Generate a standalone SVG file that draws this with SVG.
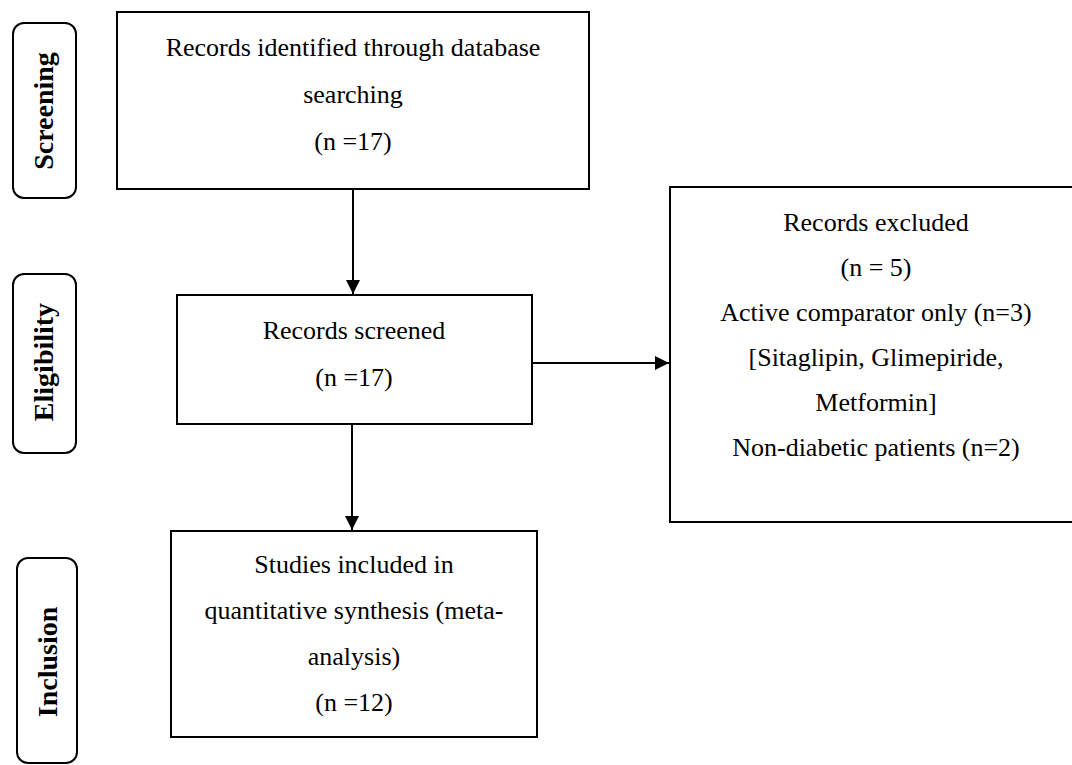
<svg xmlns="http://www.w3.org/2000/svg" width="1072" height="765" viewBox="0 0 1072 765">
<defs>
<style>
.box{fill:#fff;stroke:#000;stroke-width:2}
.stage{fill:#fff;stroke:#000;stroke-width:2}
.t{font-family:"Liberation Serif","Times New Roman",Times,serif;font-size:26px;fill:#000;text-anchor:middle}
.st{font-family:"Liberation Serif","Times New Roman",Times,serif;font-size:28px;font-weight:bold;fill:#000;text-anchor:middle}
.c{stroke:#000;stroke-width:2;fill:none}
</style>
<marker id="ah" markerWidth="14" markerHeight="14" viewBox="0 0 14 14" refX="14" refY="7" orient="auto" markerUnits="userSpaceOnUse">
<path d="M0,0 L14,7 L0,14 Z" fill="#000"/>
</marker>
</defs>
<rect width="1072" height="765" fill="#fff"/>
<g id="stage-screening">
<rect class="stage" x="13" y="23" width="63" height="175" rx="11"/>
<text class="st" transform="translate(53,111) rotate(-90)">Screening</text>
</g>
<g id="stage-eligibility">
<rect class="stage" x="13" y="274" width="63" height="179" rx="11"/>
<text class="st" transform="translate(53,362) rotate(-90)">Eligibility</text>
</g>
<g id="stage-inclusion">
<rect class="stage" x="17" y="558" width="60" height="205" rx="11"/>
<text class="st" transform="translate(57,662) rotate(-90)">Inclusion</text>
</g>
<g id="identified">
<rect class="box" x="117" y="12" width="472" height="177"/>
<text class="t" x="353" y="56">Records identified through database</text>
<text class="t" x="353" y="103">searching</text>
<text class="t" x="353" y="150">(n =17)</text>
</g>
<g id="screened">
<rect class="box" x="177" y="295" width="355" height="129"/>
<text class="t" x="354" y="339">Records screened</text>
<text class="t" x="354" y="386">(n =17)</text>
</g>
<g id="excluded">
<rect class="box" x="670" y="187" width="420" height="335"/>
<text class="t" x="876" y="231">Records excluded</text>
<text class="t" x="876" y="276">(n = 5)</text>
<text class="t" x="876" y="321">Active comparator only (n=3)</text>
<text class="t" x="876" y="366">[Sitaglipin, Glimepiride,</text>
<text class="t" x="876" y="411">Metformin]</text>
<text class="t" x="876" y="456">Non-diabetic patients (n=2)</text>
</g>
<g id="included">
<rect class="box" x="171" y="531" width="366" height="206"/>
<text class="t" x="354" y="573">Studies included in</text>
<text class="t" x="354" y="619">quantitative synthesis (meta-</text>
<text class="t" x="354" y="665">analysis)</text>
<text class="t" x="354" y="711">(n =12)</text>
</g>
<g id="connectors">
<line class="c" x1="353" y1="189" x2="353" y2="294" marker-end="url(#ah)"/>
<line class="c" x1="532" y1="363" x2="669" y2="363" marker-end="url(#ah)"/>
<line class="c" x1="352" y1="424" x2="352" y2="530" marker-end="url(#ah)"/>
</g>
</svg>
